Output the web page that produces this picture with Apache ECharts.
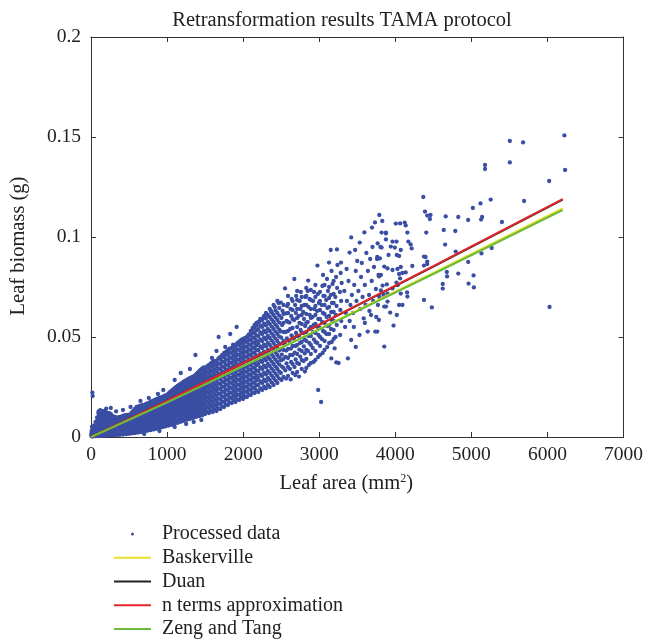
<!DOCTYPE html>
<html>
<head>
<meta charset="utf-8">
<script src="https://cdn.jsdelivr.net/npm/echarts@6/dist/echarts.min.js"></script>
<style>
html,body{margin:0;padding:0;background:#fff;}
#chart{width:646px;height:639px;}
</style>
</head>
<body>
<div id="chart"></div>
<script>
// ---- Axis ticks ----
const xTicks = [0, 1000, 2000, 3000, 4000, 5000, 6000, 7000];
const yTicks = [0, 0.05, 0.1, 0.15, 0.2];

// ---- Fitted retransformation curves (leaf area -> leaf biomass) ----
const curveX = [0, 1000, 2300, 3000, 4500, 6200];
const baskerville = [0, 0.0174, 0.0410, 0.0540, 0.0821, 0.1143];
const duan = [0, 0.0180, 0.0426, 0.0561, 0.0852, 0.1187];
const nTerms = [0, 0.0181, 0.0427, 0.0562, 0.0854, 0.1189];
const zengTang = [0, 0.0173, 0.0408, 0.0537, 0.0815, 0.1135];

// ---- Processed data: leaf area (mm^2) -> leaf biomass (g) ----
// dense part, stored as [leaf area, [biomass values seen at that area]]
const coreCols = [
[20,[0.0003,0.0018,0.0035,0.005]],
[40,[0.0005,0.0022,0.004,0.0058]],
[60,[0.0004,0.0021,0.0039,0.0057,0.0075]],
[80,[0.0006,0.0024,0.0043,0.0062,0.008,0.0098]],
[100,[0.0005,0.0023,0.0041,0.006,0.0079,0.0098,0.0117,0.0128]],
[120,[0.0007,0.0026,0.0045,0.0064,0.0083,0.0102,0.0121,0.0134]],
[140,[0.0006,0.0024,0.0043,0.0061,0.008,0.0099,0.0118,0.013]],
[160,[0.0008,0.0027,0.0046,0.0065,0.0084,0.0103,0.0122]],
[180,[0.0006,0.0025,0.0044,0.0063,0.0082,0.0101,0.012,0.0131]],
[200,[0.0009,0.0028,0.0047,0.0066,0.0085,0.0104,0.0123]],
[220,[0.0007,0.0026,0.0045,0.0064,0.0083,0.0102,0.0121]],
[240,[0.001,0.0029,0.0048,0.0067,0.0086,0.0105,0.0119]],
[260,[0.0008,0.0027,0.0046,0.0065,0.0084,0.0103,0.0116]],
[280,[0.0011,0.003,0.0049,0.0068,0.0087,0.0106]],
[300,[0.0009,0.0028,0.0047,0.0066,0.0085,0.0102]],
[320,[0.0012,0.0031,0.005,0.0069,0.0088,0.0099]],
[340,[0.001,0.0029,0.0048,0.0067,0.0086,0.0097]],
[360,[0.0013,0.0032,0.0051,0.007,0.0089,0.0098]],
[380,[0.0011,0.003,0.0049,0.0068,0.0087,0.01]],
[400,[0.0014,0.0033,0.0052,0.0071,0.009,0.0102]],
[420,[0.0012,0.0031,0.005,0.0069,0.0088,0.0105]],
[440,[0.0016,0.0035,0.0054,0.0073,0.0092,0.0108]],
[460,[0.0014,0.0033,0.0052,0.0071,0.009,0.0109]],
[480,[0.0018,0.0037,0.0056,0.0075,0.0094,0.0111]],
[500,[0.0016,0.0035,0.0054,0.0073,0.0092,0.011]],
[520,[0.002,0.0039,0.0058,0.0077,0.0096,0.0115]],
[540,[0.0018,0.0037,0.0056,0.0075,0.0094,0.0113,0.0124]],
[560,[0.0022,0.0041,0.006,0.0079,0.0098,0.0117,0.0133]],
[580,[0.002,0.0039,0.0058,0.0077,0.0096,0.0115,0.0134,0.0142]],
[600,[0.0024,0.0043,0.0062,0.0081,0.01,0.0119,0.0138,0.015]],
[620,[0.0022,0.0041,0.006,0.0079,0.0098,0.0117,0.0136,0.0152]],
[640,[0.0027,0.0046,0.0065,0.0084,0.0103,0.0122,0.0141,0.0155]],
[660,[0.0025,0.0044,0.0063,0.0082,0.0101,0.012,0.0139,0.0157]],
[680,[0.003,0.0049,0.0068,0.0087,0.0106,0.0125,0.0144,0.016]],
[700,[0.0028,0.0047,0.0066,0.0085,0.0104,0.0123,0.0142,0.0161]],
[720,[0.0033,0.0052,0.0071,0.009,0.0109,0.0128,0.0147,0.0164]],
[740,[0.0031,0.005,0.0069,0.0088,0.0107,0.0126,0.0145,0.0164,0.0168]],
[760,[0.0036,0.0055,0.0074,0.0093,0.0112,0.0131,0.015,0.0169]],
[780,[0.0034,0.0053,0.0072,0.0091,0.011,0.0129,0.0148,0.0167,0.0175]],
[800,[0.0039,0.0058,0.0077,0.0096,0.0115,0.0134,0.0153,0.0172,0.0179]],
[820,[0.0037,0.0056,0.0075,0.0094,0.0113,0.0132,0.0151,0.017,0.0182]],
[840,[0.0043,0.0062,0.0081,0.01,0.0119,0.0138,0.0157,0.0176,0.0186]],
[860,[0.0041,0.006,0.0079,0.0098,0.0117,0.0136,0.0155,0.0174,0.0189]],
[880,[0.0047,0.0066,0.0085,0.0104,0.0123,0.0142,0.0161,0.018,0.0192]],
[900,[0.0045,0.0064,0.0083,0.0102,0.0121,0.014,0.0159,0.0178,0.0195]],
[920,[0.0051,0.007,0.0089,0.0108,0.0127,0.0146,0.0165,0.0184,0.0198]],
[940,[0.0049,0.0068,0.0087,0.0106,0.0125,0.0144,0.0163,0.0182,0.0201]],
[960,[0.0055,0.0074,0.0093,0.0112,0.0131,0.015,0.0169,0.0188,0.0204]],
[980,[0.0053,0.0072,0.0091,0.011,0.0129,0.0148,0.0167,0.0186,0.0205,0.0208]],
[1000,[0.0059,0.0078,0.0097,0.0116,0.0135,0.0154,0.0173,0.0192,0.0211]],
[1020,[0.0057,0.0076,0.0095,0.0114,0.0133,0.0152,0.0171,0.019,0.0209,0.0218]],
[1040,[0.0063,0.0082,0.0101,0.012,0.0139,0.0158,0.0177,0.0196,0.0215,0.0225]],
[1060,[0.0061,0.008,0.0099,0.0118,0.0137,0.0156,0.0175,0.0194,0.0213,0.0232]],
[1080,[0.0068,0.0087,0.0106,0.0125,0.0144,0.0163,0.0182,0.0201,0.022,0.0238]],
[1100,[0.0066,0.0085,0.0104,0.0123,0.0142,0.0161,0.018,0.0199,0.0218,0.0237,0.0244]],
[1120,[0.0073,0.0092,0.0111,0.013,0.0149,0.0168,0.0187,0.0206,0.0225,0.0244,0.025]],
[1140,[0.0071,0.009,0.0109,0.0128,0.0147,0.0166,0.0185,0.0204,0.0223,0.0242,0.0256]],
[1160,[0.0078,0.0097,0.0116,0.0135,0.0154,0.0173,0.0192,0.0211,0.023,0.0249,0.0262]],
[1180,[0.0076,0.0095,0.0114,0.0133,0.0152,0.0171,0.019,0.0209,0.0228,0.0247,0.0266]],
[1200,[0.0083,0.0102,0.0121,0.014,0.0159,0.0178,0.0197,0.0216,0.0235,0.0254,0.0272]],
[1220,[0.0081,0.01,0.0119,0.0138,0.0157,0.0176,0.0195,0.0214,0.0233,0.0252,0.0271,0.0277]],
[1240,[0.0088,0.0107,0.0126,0.0145,0.0164,0.0183,0.0202,0.0221,0.024,0.0259,0.0278,0.0282]],
[1260,[0.0086,0.0105,0.0124,0.0143,0.0162,0.0181,0.02,0.0219,0.0238,0.0257,0.0276,0.0286]],
[1280,[0.0092,0.0111,0.013,0.0149,0.0168,0.0187,0.0206,0.0225,0.0244,0.0263,0.0282,0.029]],
[1300,[0.009,0.0109,0.0128,0.0147,0.0166,0.0185,0.0204,0.0223,0.0242,0.0261,0.028,0.0294]],
[1320,[0.0097,0.0116,0.0135,0.0154,0.0173,0.0192,0.0211,0.023,0.0249,0.0268,0.0287,0.0298]],
[1340,[0.0095,0.0114,0.0133,0.0152,0.0171,0.019,0.0209,0.0228,0.0247,0.0266,0.0285,0.0302]],
[1360,[0.0102,0.0121,0.014,0.0159,0.0178,0.0197,0.0216,0.0235,0.0254,0.0273,0.0292,0.0306]],
[1380,[0.01,0.0119,0.0138,0.0157,0.0176,0.0195,0.0214,0.0233,0.0252,0.0271,0.029,0.0309,0.0313]],
[1400,[0.0106,0.0125,0.0144,0.0163,0.0182,0.0201,0.022,0.0239,0.0258,0.0277,0.0296,0.0315,0.032]],
[1420,[0.0104,0.0123,0.0142,0.0161,0.018,0.0199,0.0218,0.0237,0.0256,0.0275,0.0294,0.0313,0.0328]],
[1440,[0.011,0.0129,0.0148,0.0167,0.0186,0.0205,0.0224,0.0243,0.0262,0.0281,0.03,0.0319,0.0335]],
[1460,[0.0108,0.0127,0.0146,0.0165,0.0184,0.0203,0.0222,0.0241,0.026,0.0279,0.0298,0.0317,0.0336,0.0342]],
[1480,[0.0114,0.0133,0.0152,0.0171,0.019,0.0209,0.0228,0.0247,0.0266,0.0285,0.0304,0.0323,0.0342,0.0348]]
];

const midCols = [
[1500,[0.0115,0.014,0.0165,0.019,0.0215,0.024,0.0265,0.029,0.0315,0.034]],
[1525,[0.0128,0.0153,0.0178,0.0203,0.0228,0.0253,0.0278,0.0303,0.0328,0.0353]],
[1550,[0.012,0.0145,0.017,0.0195,0.022,0.0245,0.027,0.0295,0.032,0.0345,0.036]],
[1575,[0.0133,0.0158,0.0183,0.0208,0.0233,0.0258,0.0283,0.0308,0.0333,0.0358,0.0368]],
[1600,[0.0125,0.015,0.0175,0.02,0.0225,0.025,0.0275,0.03,0.0325,0.035,0.0375]],
[1625,[0.0138,0.0163,0.0188,0.0213,0.0238,0.0263,0.0288,0.0313,0.0338,0.0363,0.038]],
[1650,[0.013,0.0155,0.018,0.0205,0.023,0.0255,0.028,0.0305,0.033,0.0355,0.038]],
[1675,[0.0143,0.0168,0.0193,0.0218,0.0243,0.0268,0.0293,0.0318,0.0343,0.0368,0.0393]],
[1700,[0.014,0.0165,0.019,0.0215,0.024,0.0265,0.029,0.0315,0.034,0.0365,0.039,0.04]],
[1725,[0.0153,0.0178,0.0203,0.0228,0.0253,0.0278,0.0303,0.0328,0.0353,0.0378,0.0403,0.041]],
[1750,[0.015,0.0175,0.02,0.0225,0.025,0.0275,0.03,0.0325,0.035,0.0375,0.04,0.042]],
[1775,[0.0163,0.0188,0.0213,0.0238,0.0263,0.0288,0.0313,0.0338,0.0363,0.0388,0.0413,0.0425]],
[1800,[0.016,0.0185,0.021,0.0235,0.026,0.0285,0.031,0.0335,0.036,0.0385,0.041,0.0435]],
[1825,[0.0173,0.0198,0.0223,0.0248,0.0273,0.0298,0.0323,0.0348,0.0373,0.0398,0.0423,0.0442]],
[1850,[0.017,0.0195,0.022,0.0245,0.027,0.0295,0.032,0.0345,0.037,0.0395,0.042,0.0445]],
[1875,[0.0183,0.0208,0.0233,0.0258,0.0283,0.0308,0.0333,0.0358,0.0383,0.0408,0.0433,0.0455]],
[1900,[0.0175,0.02,0.0225,0.025,0.0275,0.03,0.0325,0.035,0.0375,0.04,0.0425,0.045,0.046]],
[1925,[0.0188,0.0213,0.0238,0.0263,0.0288,0.0313,0.0338,0.0363,0.0388,0.0413,0.0438,0.0463,0.047]],
[1950,[0.0185,0.021,0.0235,0.026,0.0285,0.031,0.0335,0.036,0.0385,0.041,0.0435,0.046,0.0478]],
[1975,[0.0198,0.0223,0.0248,0.0273,0.0298,0.0323,0.0348,0.0373,0.0398,0.0423,0.0448,0.0473,0.0485]],
[2000,[0.019,0.0215,0.024,0.0265,0.029,0.0315,0.034,0.0365,0.039,0.0415,0.044,0.0465,0.049]],
[2025,[0.0203,0.0228,0.0253,0.0278,0.0303,0.0328,0.0353,0.0378,0.0403,0.0428,0.0453,0.0478,0.0495]],
[2050,[0.02,0.0225,0.025,0.0275,0.03,0.0325,0.035,0.0375,0.04,0.0425,0.045,0.0475,0.05]],
[2075,[0.0213,0.0238,0.0263,0.0288,0.0313,0.0338,0.0363,0.0388,0.0413,0.0438,0.0463,0.0488,0.0513]],
[2100,[0.021,0.0235,0.026,0.0285,0.031,0.0335,0.036,0.0385,0.041,0.0435,0.046,0.0485,0.051,0.053]],
[2125,[0.0223,0.0248,0.0273,0.0298,0.0323,0.0348,0.0373,0.0398,0.0423,0.0448,0.0473,0.0498,0.0523,0.0545]],
[2150,[0.022,0.0245,0.027,0.0295,0.032,0.0345,0.037,0.0395,0.042,0.0445,0.047,0.0495,0.052,0.0545,0.056]],
[2175,[0.0233,0.0258,0.0283,0.0308,0.0333,0.0358,0.0383,0.0408,0.0433,0.0458,0.0483,0.0508,0.0533,0.0558,0.057]],
[2200,[0.0225,0.026,0.0295,0.033,0.0365,0.04,0.0435,0.047,0.0505,0.054,0.0575]],
[2225,[0.0243,0.0278,0.0313,0.0348,0.0383,0.0418,0.0453,0.0488,0.0523,0.0558,0.059]],
[2250,[0.0235,0.027,0.0305,0.034,0.0375,0.041,0.0445,0.048,0.0515,0.055,0.0585]],
[2275,[0.0252,0.0287,0.0322,0.0357,0.0392,0.0427,0.0462,0.0497,0.0532,0.0567,0.0605]],
[2300,[0.0243,0.0278,0.0313,0.0348,0.0383,0.0418,0.0453,0.0488,0.0523,0.0558,0.0593,0.062]],
[2325,[0.026,0.0295,0.033,0.0365,0.04,0.0435,0.047,0.0505,0.054,0.0575,0.061]],
[2350,[0.025,0.0285,0.032,0.0355,0.039,0.0425,0.046,0.0495,0.053,0.0565,0.06,0.064]],
[2375,[0.0272,0.0307,0.0342,0.0377,0.0412,0.0447,0.0482,0.0517,0.0552,0.0587,0.0622]],
[2400,[0.026,0.0295,0.033,0.0365,0.04,0.0435,0.047,0.0505,0.054,0.0575,0.061,0.066]],
[2425,[0.0282,0.0317,0.0352,0.0387,0.0422,0.0457,0.0492,0.0527,0.0562,0.0597,0.0632]],
[2450,[0.027,0.0305,0.034,0.0375,0.041,0.0445,0.048,0.0515,0.055,0.0585,0.062,0.068]],
[2475,[0.0292,0.0327,0.0362,0.0397,0.0432,0.0467,0.0502,0.0537,0.0572,0.0607,0.0645]]
];

const sparseCols = [
[2530,[0.030,0.0345,0.039,0.0435,0.048,0.0525,0.057,0.0615,0.066]],
[2590,[0.0305,0.035,0.0395,0.044,0.0485,0.053,0.0575,0.062,0.0665,0.0705]],
[2650,[0.032,0.0365,0.041,0.0455,0.050,0.0545,0.059,0.0635,0.068]],
[2710,[0.0325,0.037,0.0415,0.046,0.0505,0.055,0.0595,0.064,0.0685,0.073]],
[2770,[0.034,0.0385,0.043,0.0475,0.052,0.0565,0.061,0.0655,0.070]],
[2830,[0.0345,0.039,0.0435,0.048,0.0525,0.057,0.0615,0.066,0.0705,0.0745]],
[2890,[0.037,0.0415,0.046,0.0505,0.055,0.0595,0.064,0.0685,0.0735]],
[2950,[0.0385,0.043,0.0475,0.052,0.0565,0.061,0.0655,0.070,0.076]],
[3010,[0.041,0.0455,0.050,0.0545,0.059,0.0635,0.068,0.0725]],
[3070,[0.0435,0.048,0.0525,0.057,0.0615,0.066,0.0705,0.076]],
[3130,[0.047,0.0515,0.056,0.0605,0.065,0.0695,0.075]],
[3190,[0.049,0.0535,0.058,0.0625,0.067,0.0715,0.078]]
];

// individual points (edges, scattered and outlying leaves)
const ptsEdges = [[5,0.0005],[10,0.001],[15,0.0003],[25,0.0012],[30,0.0035],[35,0.0008],[45,0.0045],[50,0.0015],[55,0.003],[65,0.001],[70,0.0025],[75,0.004],[85,0.006],[90,0.0032],[95,0.0012],[105,0.0022],[110,0.007],[115,0.0035],[125,0.0055],[130,0.0085],[135,0.0028],[145,0.0098],[150,0.0065],[18,0.0222],[22,0.0205],[110,0.0105],[100,0.012],[95,0.009],[8,0.003],[12,0.005],[3,0.0015],
[1373,0.041],[1300,0.034],[1180,0.032],[1100,0.0285],[950,0.0235],[880,0.0215],[760,0.0195],[650,0.018],[520,0.015],[420,0.0135],[330,0.0128],[260,0.0145],[200,0.0142],
[700,0.0015],[900,0.003],[1100,0.005],[1250,0.0065],[1450,0.0085],[1350,0.0075],[1678,0.050],[1765,0.045],[1830,0.0515],[1868,0.0462],[1915,0.055],[2065,0.0505],[2115,0.0528],[2215,0.0578],[2265,0.0595],[2315,0.0612],[2365,0.063],[2415,0.065],[2465,0.067],[1590,0.0395],[1650,0.043]];

const ptsUpper = [
[2505,0.0285],[2495,0.032],[2510,0.0352],[2498,0.0383],[2508,0.0412],[2492,0.044],[2515,0.0468],[2500,0.0497],[2490,0.0528],[2512,0.056],[2503,0.0595],[2518,0.063],[2496,0.0672],
[2565,0.0292],[2555,0.0333],[2570,0.0368],[2558,0.0401],[2568,0.0432],[2552,0.0462],[2575,0.0493],[2560,0.0525],[2551,0.0743],[2572,0.058],[2563,0.0618],[2578,0.0655],
[2625,0.0288],[2615,0.034],[2630,0.0375],[2618,0.041],[2628,0.0442],[2612,0.0475],[2635,0.0508],[2620,0.054],[2610,0.0572],[2632,0.0605],[2623,0.064],[2638,0.069],
[2685,0.031],[2675,0.035],[2690,0.0388],[2678,0.0422],[2688,0.0455],[2672,0.0488],[2695,0.052],[2673,0.079],[2670,0.0585],[2692,0.062],[2683,0.066],[2698,0.0705],
[2734,0.0302],[2735,0.0365],[2750,0.0402],[2738,0.0437],[2748,0.047],[2732,0.0502],[2755,0.0535],[2740,0.057],[2730,0.0605],[2752,0.064],[2743,0.068],[2758,0.0725],
[2812,0.0327],[2795,0.038],[2810,0.0418],[2798,0.0453],[2808,0.0488],[2792,0.052],[2815,0.0555],[2800,0.059],[2790,0.0625],[2805,0.066],[2818,0.070],
[2855,0.0782],[2865,0.036],[2852,0.043],[2870,0.047],[2858,0.0505],[2868,0.054],[2850,0.0575],[2875,0.061],[2860,0.065],[2872,0.069],[2848,0.073],
[2925,0.0375],[2915,0.0445],[2930,0.0488],[2918,0.0525],[2928,0.056],[2912,0.06],[2935,0.064],[2920,0.068],[2932,0.0725],
[2977,0.0857],[2985,0.040],[2975,0.047],[2990,0.051],[2978,0.055],[2988,0.059],[2972,0.063],[2995,0.067],[2982,0.0715],[2986,0.0235],[3025,0.0175],
[3045,0.042],[3035,0.049],[3050,0.053],[3038,0.0575],[3048,0.062],[3032,0.066],[3055,0.0705],[3042,0.0755],[3050,0.081],
[3105,0.045],[3095,0.0515],[3110,0.0555],[3098,0.060],[3108,0.0645],[3092,0.0685],[3115,0.073],[3129,0.0872],[3102,0.079],
[3159,0.0393],[3151,0.0935],[3165,0.0475],[3155,0.054],[3170,0.058],[3158,0.0625],[3168,0.067],[3152,0.071],[3175,0.0765],[3162,0.083],
[3224,0.0373],[3203,0.0443],[3233,0.0938],[3215,0.05],[3230,0.056],[3218,0.061],[3228,0.0655],[3212,0.070],[3235,0.0745],[3222,0.080],[3240,0.086],
[3255,0.037],[3286,0.0872],[3275,0.051],[3290,0.058],[3278,0.0635],[3288,0.068],[3272,0.0725],[3295,0.077],[3282,0.082],
[3377,0.0393],[3420,0.0485],[3420,0.0998],[3399,0.0922],[3472,0.0935],[3533,0.0972],[3594,0.1023],[3529,0.051],[3638,0.0527],[3737,0.0527],[3585,0.0593],[3681,0.061],[3877,0.0652],[3855,0.0452],[3694,0.1047],[3733,0.1073],[3768,0.0968],[3877,0.1018],
[3340,0.055],[3350,0.062],[3365,0.068],[3330,0.073],[3385,0.078],[3360,0.084],[3400,0.058],[3410,0.066],[3430,0.071],[3445,0.062],[3460,0.076],[3480,0.083],[3490,0.068],[3500,0.088],[3455,0.055],[3515,0.073],[3540,0.064],[3550,0.080],[3560,0.087],[3570,0.070],[3600,0.076],[3610,0.066],[3620,0.092],[3640,0.083],[3655,0.071],[3670,0.089],[3690,0.078],[3700,0.095],[3710,0.068],[3720,0.085],[3745,0.074],[3760,0.089],[3780,0.081],[3790,0.07],[3805,0.095],[3600,0.057],[3660,0.063],[3750,0.060],[3480,0.045]
];

const ptsTail = [
[3790,0.111],[3829,0.108],[4007,0.1067],[4064,0.1068],[4124,0.1072],[4137,0.1058],[3820,0.1022],[3877,0.1022],[4159,0.1022],[3877,0.0988],[3963,0.0977],[4016,0.0977],[4172,0.0977],[3820,0.0947],[3941,0.0952],[3994,0.0947],[4072,0.0935],[4215,0.0943],[4202,0.0963],[3911,0.091],[4020,0.091],[4050,0.0905],[3798,0.0893],[3855,0.0852],[3898,0.0843],[3963,0.0835],[4029,0.084],[4072,0.085],[4224,0.0855],[3763,0.09],[3811,0.081],[3785,0.0803],[3833,0.0757],[3889,0.0763],[4050,0.0815],[4094,0.082],[4137,0.0823],[4063,0.0793],[4016,0.0772],[3963,0.0743],[4033,0.076],[4155,0.0723],[4072,0.0717],[4159,0.0702],[3898,0.0717],[3846,0.071],[3811,0.0733],[3772,0.066],[3855,0.0652],[3898,0.0677],[4050,0.066],[4094,0.066],[3933,0.0622],[4020,0.061],[3785,0.0585],[3763,0.0527],[3977,0.0557],
[5506,0.148],[5680,0.1473],[6223,0.1508],[6232,0.1335],[6023,0.128],[5506,0.1373],[5180,0.136],[5180,0.134],[5693,0.118],[5254,0.1187],[5120,0.1168],[5020,0.1145],[5141,0.110],[5128,0.1087],[5402,0.1075],[4958,0.1085],[4828,0.110],[4663,0.1103],[4789,0.103],[4637,0.1035],[4655,0.0962],[5267,0.0945],[5133,0.0918],[4958,0.0875],[4794,0.0927],[4677,0.0825],[4681,0.0803],[4828,0.0817],[5029,0.0808],[5033,0.0748],[4963,0.0767],[4624,0.0765],[4624,0.0742],[6028,0.065],[4481,0.0648],[4377,0.0685],[4368,0.12],[4390,0.1127],[4420,0.1107],[4463,0.111],[4455,0.109],[4407,0.1022],[4377,0.0902],[4398,0.090],[4420,0.0877],[4377,0.0857],[4420,0.0865]
];

const expandCols = cols => cols.flatMap(([x, ys]) => ys.map(y => [x, y]));
const processedData = expandCols(coreCols).concat(expandCols(midCols), expandCols(sparseCols), ptsEdges, ptsUpper, ptsTail);

const FONT = 'Liberation Serif';
const AXIS_COLOR = '#333';
const TXT = '#222';
const zipCurve = ys => curveX.map((x, i) => [x, ys[i]]);
const LINE_ICON = 'path://M0 0H37V2H0Z';

const chart = echarts.init(document.getElementById('chart'), null, {renderer: 'canvas'});

const baseX = {
  type: 'value', min: xTicks[0], max: xTicks[xTicks.length - 1], interval: xTicks[1] - xTicks[0],
  axisLine: {show: true, onZero: false, lineStyle: {color: AXIS_COLOR, width: 1}},
  axisTick: {show: true, inside: true, length: 5, lineStyle: {color: AXIS_COLOR}},
  splitLine: {show: false}
};
const baseY = {
  type: 'value', min: yTicks[0], max: yTicks[yTicks.length - 1], interval: yTicks[1] - yTicks[0],
  axisLine: {show: true, onZero: false, lineStyle: {color: AXIS_COLOR, width: 1}},
  axisTick: {show: true, inside: true, length: 5, lineStyle: {color: AXIS_COLOR}},
  splitLine: {show: false}
};

chart.setOption({
  animation: false,
  backgroundColor: '#fff',
  title: {
    text: 'Retransformation results TAMA protocol',
    left: 337, top: 5, textAlign: 'center',
    textStyle: {fontFamily: FONT, fontSize: 20.5, fontWeight: 'normal', color: TXT}
  },
  grid: {left: 91, right: 19, top: 37, bottom: 202, containLabel: false},
  xAxis: [
    Object.assign({}, baseX, {
      position: 'bottom',
      axisLabel: {fontFamily: FONT, fontSize: 19.5, color: TXT, margin: 8, formatter: v => String(v)},
      name: 'Leaf area (mm{sup|2})',
      nameLocation: 'middle', nameGap: 36,
      nameTextStyle: {fontFamily: FONT, fontSize: 20.5, color: TXT, padding: [0, 22, 0, 0],
        rich: {sup: {fontFamily: FONT, fontSize: 12, color: TXT, verticalAlign: 'bottom', padding: [0, 0, 9, 0]}}}
    }),
    Object.assign({}, baseX, {position: 'top', axisLabel: {show: false}})
  ],
  yAxis: [
    Object.assign({}, baseY, {
      position: 'left',
      axisLabel: {fontFamily: FONT, fontSize: 19.5, color: TXT, margin: 10, formatter: v => String(v)},
      name: 'Leaf biomass (g)',
      nameLocation: 'middle', nameGap: 62, nameRotate: 90,
      nameTextStyle: {fontFamily: FONT, fontSize: 20.5, color: TXT, padding: [0, 18, 0, 0]}
    }),
    Object.assign({}, baseY, {position: 'right', axisLabel: {show: false}})
  ],
  legend: {
    orient: 'vertical', left: 109, top: 519, height: 130,
    itemWidth: 37, itemHeight: 3, itemGap: 3.75,
    textStyle: {fontFamily: FONT, fontSize: 20, color: TXT, lineHeight: 20, padding: [0, 0, 0, 6]},
    data: [
      {name: 'Processed data', icon: 'circle'},
      {name: 'Baskerville', icon: LINE_ICON},
      {name: 'Duan', icon: LINE_ICON},
      {name: 'n terms approximation', icon: LINE_ICON},
      {name: 'Zeng and Tang', icon: LINE_ICON}
    ]
  },
  series: [
    {name: 'Processed data', type: 'scatter', data: processedData, symbol: 'circle', symbolSize: 4.3,
     itemStyle: {color: '#3a4ea3', opacity: 1}, large: false},
    {name: 'Baskerville', type: 'line', data: zipCurve(baskerville), symbol: 'none', lineStyle: {color: '#ecdf2c', width: 2}, itemStyle: {color: '#ecdf2c'}},
    {name: 'Duan', type: 'line', data: zipCurve(duan), symbol: 'none', lineStyle: {color: '#222', width: 2}, itemStyle: {color: '#222'}},
    {name: 'n terms approximation', type: 'line', data: zipCurve(nTerms), symbol: 'none', lineStyle: {color: '#e3262a', width: 2}, itemStyle: {color: '#e3262a'}},
    {name: 'Zeng and Tang', type: 'line', data: zipCurve(zengTang), symbol: 'none', lineStyle: {color: '#6cbb3c', width: 2}, itemStyle: {color: '#6cbb3c'}}
  ]
});
</script>
</body>
</html>
